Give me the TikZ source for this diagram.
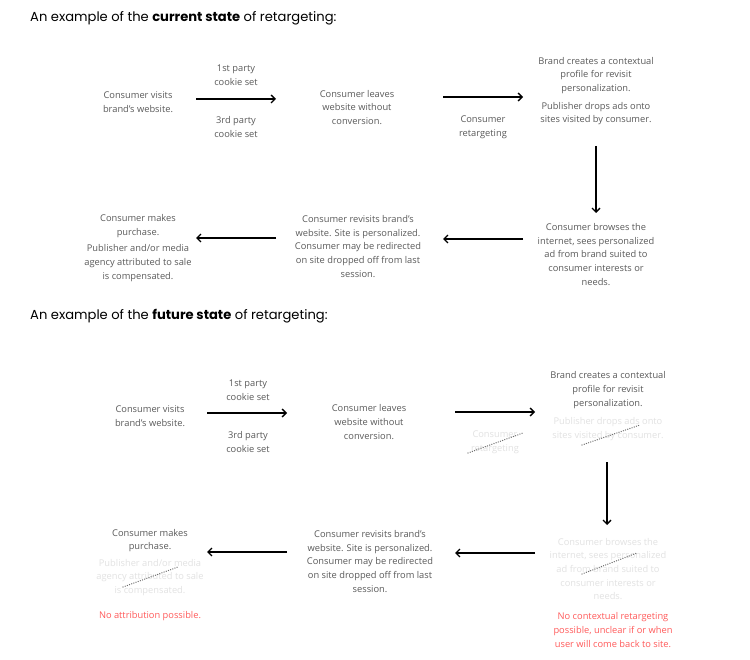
\documentclass[tikz,border=0pt]{standalone}
\usepackage{fontspec}
\setmainfont{Open Sans}
\newfontfamily\titlefont{Poppins}
\usetikzlibrary{arrows.meta}
\definecolor{txt}{HTML}{5A5A5A}
\definecolor{fade}{HTML}{E2E2E2}
\definecolor{redtxt}{HTML}{FF5A5A}
\definecolor{dotc}{HTML}{707070}
\begin{document}
\begin{tikzpicture}[x=1pt,y=1pt,
  body/.style={align=center,text=txt,font=\fontsize{9.3}{13.7}\selectfont,inner sep=0pt},
  faded/.style={body,text=fade},
  redt/.style={body,text=redtxt},
  ttl/.style={anchor=west,inner sep=0pt,font=\titlefont\fontsize{13.1}{15}\selectfont},
  arr/.style={line width=1.3pt,-{Straight Barb[length=4pt,width=8pt,line width=1.3pt]}},
  strike/.style={dotc,line width=1.3pt,dash pattern=on 0.1pt off 2.2pt,line cap=round}]
\useasboundingbox (0,0) rectangle (750,-660);
\fill[white] (0,0) rectangle (750,-660);
% ---- current state ----
\node[ttl] (t1) at (30,-18) {An example of the \textbf{current state} of retargeting:};
\node[body] (c1) at (138,-102) {Consumer visits\\brand's website.};
\node[body] (l1) at (236,-75) {1st party\\cookie set};
\node[body] (l2) at (236,-127) {3rd party\\cookie set};
\node[body] (c2) at (357,-107.5) {Consumer leaves\\website without\\conversion.};
\node[body] (l3) at (483,-127) {Consumer\\retargeting};
\node[body] (c3) at (596,-91) {Brand creates a contextual\\profile for revisit\\personalization.\\[4pt]Publisher drops ads onto\\sites visited by consumer.};
\node[body] (c4) at (596,-254.5) {Consumer browses the\\internet, sees personalized\\ad from brand suited to\\consumer interests or\\needs.};
\node[body] (c5) at (358,-246.5) {Consumer revisits brand's\\website. Site is personalized.\\Consumer may be redirected\\on site dropped off from last\\session.};
\node[body] (c6) at (138,-248) {Consumer makes\\purchase.\\[3pt]Publisher and/or media\\agency attributed to sale\\is compensated.};
\coordinate (a1s) at (196,-99); \coordinate (a1e) at (276,-99);
\coordinate (a2s) at (443,-97); \coordinate (a2e) at (523,-97);
\coordinate (a3s) at (596,-146); \coordinate (a3e) at (596,-213);
\coordinate (a4s) at (523,-239); \coordinate (a4e) at (443,-239);
\coordinate (a5s) at (276,-238); \coordinate (a5e) at (196,-238);
\draw[arr] (a1s) -- (a1e);
\draw[arr] (a2s) -- (a2e);
\draw[arr] (a3s) -- (a3e);
\draw[arr] (a4s) -- (a4e);
\draw[arr] (a5s) -- (a5e);
% ---- future state ----
\node[ttl] (t2) at (30,-316) {An example of the \textbf{future state} of retargeting:};
\node[body] (f1) at (150,-416) {Consumer visits\\brand's website.};
\node[body] (fl1) at (248,-390) {1st party\\cookie set};
\node[body] (fl2) at (248,-442) {3rd party\\cookie set};
\node[body] (f2) at (369,-422) {Consumer leaves\\website without\\conversion.};
\node[faded] (fl3) at (495,-442) {Consumer\\retargeting};
\node[body] (f3a) at (608,-390) {Brand creates a contextual\\profile for revisit\\personalization.};
\node[faded] (f3b) at (608,-429) {Publisher drops ads onto\\sites visited by consumer.};
\node[faded] (f4) at (608,-569) {Consumer browses the\\internet, sees personalized\\ad from brand suited to\\consumer interests or\\needs.};
\node[redt] (f4r) at (613,-630) {No contextual retargeting\\possible, unclear if or when\\user will come back to site.};
\node[body] (f5) at (370,-561.5) {Consumer revisits brand's\\website. Site is personalized.\\Consumer may be redirected\\on site dropped off from last\\session.};
\node[body] (f6a) at (150,-540.5) {Consumer makes\\purchase.};
\node[faded] (f6b) at (150,-577.5) {Publisher and/or media\\agency attributed to sale\\is compensated.};
\node[redt] (f6r) at (150,-616) {No attribution possible.};
\coordinate (b1s) at (207,-413); \coordinate (b1e) at (287,-413);
\coordinate (b2s) at (455,-412); \coordinate (b2e) at (535,-412);
\coordinate (b3s) at (607,-462); \coordinate (b3e) at (607,-525);
\coordinate (b4s) at (535,-553); \coordinate (b4e) at (455,-553);
\coordinate (b5s) at (287,-552); \coordinate (b5e) at (207,-552);
\draw[arr] (b1s) -- (b1e);
\draw[arr] (b2s) -- (b2e);
\draw[arr] (b3s) -- (b3e);
\draw[arr] (b4s) -- (b4e);
\draw[arr] (b5s) -- (b5e);
% strike-through dotted marks
\draw[strike] (468,-453) -- (523,-433);
\draw[strike] (582,-445) -- (640,-425);
\draw[strike] (123,-587) -- (178,-567);
\draw[strike] (582,-574) -- (637,-553);
\end{tikzpicture}
\end{document}
